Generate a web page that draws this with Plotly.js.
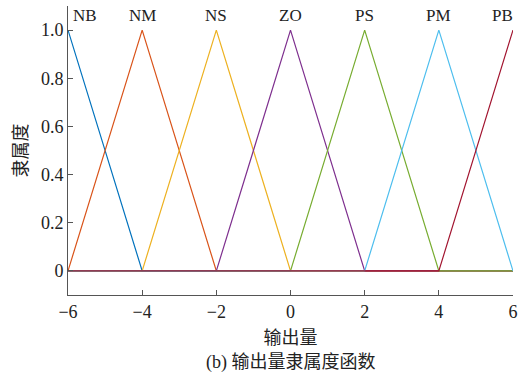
<!DOCTYPE html>
<html><head><meta charset="utf-8">
<script src="https://cdn.plot.ly/plotly-3.0.1.min.js"></script>
<style>body{margin:0;padding:0;background:#fff}#chart{width:522px;height:373px}</style>
</head><body><div id="chart"></div>
<script>
// Membership function names and vertices (x, y) over the universe [-6, 6]
const mfNames = ["NB", "NM", "NS", "ZO", "PS", "PM", "PB"];
const nbX = [-6, -4, 6];          const nbY = [1, 0, 0];
const nmX = [-6, -4, -2, 6];      const nmY = [0, 1, 0, 0];
const nsX = [-6, -4, -2, 0, 6];   const nsY = [0, 0, 1, 0, 0];
const zoX = [-6, -2, 0, 2, 6];    const zoY = [0, 0, 1, 0, 0];
const psX = [-6, 0, 2, 4, 6];     const psY = [0, 0, 1, 0, 0];
const pmX = [-6, 2, 4, 6];        const pmY = [0, 0, 1, 0];
const pbX = [-6, 4, 6];           const pbY = [0, 0, 1];
// label anchor positions
const labelX = [-5.55, -4, -2, 0, 2, 4, 5.72];
const labelY = 1.06;
const xTicks = [-6, -4, -2, 0, 2, 4, 6];
const xTickText = ["\u22126", "\u22124", "\u22122", "0", "2", "4", "6"];
const yTicks = [0, 0.2, 0.4, 0.6, 0.8, 1.0];
const yTickText = ["0", "0.2", "0.4", "0.6", "0.8", "1.0"];
const colors = ["#0072BD", "#D95319", "#EDB120", "#7E2F8E", "#77AC30", "#4DBEEE", "#A2142F"];

const xs = [nbX, nmX, nsX, zoX, psX, pmX, pbX];
const ys = [nbY, nmY, nsY, zoY, psY, pmY, pbY];
const serif = "Liberation Serif, Times New Roman, serif";
const cjk = "Liberation Serif, Noto Sans CJK SC, serif";

const traces = mfNames.map((n, i) => ({
  x: xs[i], y: ys[i], type: "scatter", mode: "lines", name: n,
  line: {color: colors[i], width: 1.2}, hoverinfo: "skip"
}));

const annotations = mfNames.map((n, i) => ({
  x: labelX[i], y: labelY, xref: "x", yref: "y", text: n, showarrow: false,
  font: {family: serif, size: 17, color: "#222"}, xanchor: "center", yanchor: "middle"
}));
annotations.push({
  x: 0.5, y: -0.232, xref: "paper", yref: "paper", xanchor: "center", yanchor: "middle",
  text: "(b) 输出量隶属度函数", showarrow: false, font: {family: cjk, size: 18, color: "#222"}
});

const layout = {
  width: 522, height: 373,
  margin: {l: 68, r: 9, t: 6, b: 78},
  paper_bgcolor: "#fff", plot_bgcolor: "#fff",
  showlegend: false,
  xaxis: {
    range: [-6, 6], tickvals: xTicks, ticktext: xTickText,
    ticks: "inside", ticklen: 5, tickcolor: "#555", tickwidth: 1,
    showline: true, linecolor: "#555", linewidth: 1, showgrid: false, zeroline: false,
    tickfont: {family: serif, size: 18, color: "#222"},
    title: {text: "输出量", font: {family: cjk, size: 18, color: "#222"}, standoff: 10}
  },
  yaxis: {
    range: [-0.1, 1.1], tickvals: yTicks, ticktext: yTickText,
    ticks: "inside", ticklen: 5, tickcolor: "#555", tickwidth: 1,
    showline: true, linecolor: "#555", linewidth: 1, showgrid: false, zeroline: false,
    tickfont: {family: serif, size: 18, color: "#222"},
    title: {text: "隶属度", font: {family: cjk, size: 18, color: "#222"}, standoff: 8}
  },
  annotations: annotations
};
Plotly.newPlot("chart", traces, layout, {displayModeBar: false, staticPlot: true});
</script></body></html>
